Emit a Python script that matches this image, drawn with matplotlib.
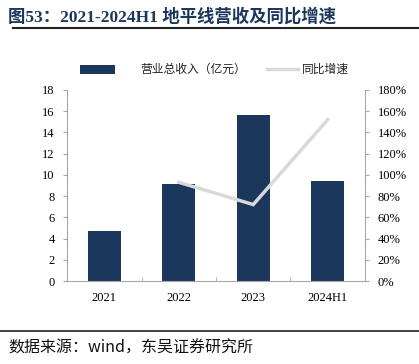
import matplotlib
matplotlib.use("Agg")
import matplotlib.pyplot as plt
from matplotlib.ticker import FuncFormatter, MultipleLocator
from matplotlib.lines import Line2D
from matplotlib.patches import Rectangle

categories = ["2021", "2022", "2023", "2024H1"]
revenue = [4.7, 9.15, 15.6, 9.4]
growth_cats = ["2022", "2023", "2024H1"]
growth = [93, 72, 152]

title = "图53：2021-2024H1 地平线营收及同比增速"
source = "数据来源：wind，东吴证券研究所"
bar_label = "营业总收入（亿元）"
line_label = "同比增速"

SERIF = ["Liberation Serif", "Noto Sans CJK SC"]
CJK = ["Noto Sans CJK SC", "DejaVu Sans"]
BAR_C = "#1b375c"
LINE_C = "#d9d9d9"
AX_C = "#a6a6a6"

fig = plt.figure(figsize=(4.19, 3.64), dpi=100)
ax = fig.add_axes([0.160, 0.228, 0.711, 0.525])
x = list(range(len(categories)))
ax.bar(x, revenue, width=0.44, color=BAR_C, zorder=2)
ax.set_xlim(-0.5, len(categories) - 0.5)
ax.set_ylim(0, 18)
ax.yaxis.set_major_locator(MultipleLocator(2))
ax.set_xticks(x)
ax.set_xticklabels(categories, fontfamily=SERIF, fontsize=9)
ax.tick_params(axis="x", length=0, pad=8)
ax.set_xticks([i + 0.5 for i in range(-1, len(categories))], minor=True)
ax.tick_params(axis="x", which="minor", direction="in", length=3, color=AX_C)
ax.tick_params(axis="y", length=3, color=AX_C, pad=6, labelsize=9)
for lab in ax.get_yticklabels():
    lab.set_fontfamily(SERIF)
for s in ["top", "right"]:
    ax.spines[s].set_visible(False)
for s in ["left", "bottom"]:
    ax.spines[s].set_color(AX_C)
    ax.spines[s].set_linewidth(0.8)

ax2 = ax.twinx()
gx = [categories.index(c) for c in growth_cats]
ax2.plot(gx, growth, color=LINE_C, lw=2.5, zorder=3, solid_joinstyle="miter")
ax2.set_ylim(0, 180)
ax2.yaxis.set_major_locator(MultipleLocator(20))
ax2.yaxis.set_major_formatter(FuncFormatter(lambda v, p: f"{v:.0f}%"))
ax2.tick_params(axis="y", length=3, color=AX_C, pad=6, labelsize=9)
for lab in ax2.get_yticklabels():
    lab.set_fontfamily(SERIF)
for s in ["top", "left", "bottom"]:
    ax2.spines[s].set_visible(False)
ax2.spines["right"].set_color(AX_C)
ax2.spines["right"].set_linewidth(0.8)

# legend (manual, figure coords)
ly = 0.810
fig.add_artist(Rectangle((0.191, ly - 0.012), 0.084, 0.024, transform=fig.transFigure,
                         facecolor=BAR_C, edgecolor="none"))
fig.text(0.334, ly, bar_label, fontfamily=CJK, fontsize=8.5, va="center", ha="left", color="#222222")
fig.add_artist(Line2D([0.637, 0.711], [ly, ly], color=LINE_C, lw=2.5, transform=fig.transFigure))
fig.text(0.721, ly, line_label, fontfamily=CJK, fontsize=8.5, va="center", ha="left", color="#222222")

fig.text(0.02, 0.955, title, fontfamily=SERIF, fontweight="bold", fontsize=12.5,
         color="#1b375c", va="center", ha="left")
fig.add_artist(Line2D([0.03, 1.0], [0.922, 0.922], color="#222222", lw=1.5))
fig.add_artist(Line2D([0.0, 1.0], [0.090, 0.090], color="#222222", lw=1.2))
fig.text(0.02, 0.043, source, fontfamily=CJK, fontsize=11.5, color="#111111", va="center", ha="left")

fig.savefig("out.png", dpi=100, facecolor="white")
